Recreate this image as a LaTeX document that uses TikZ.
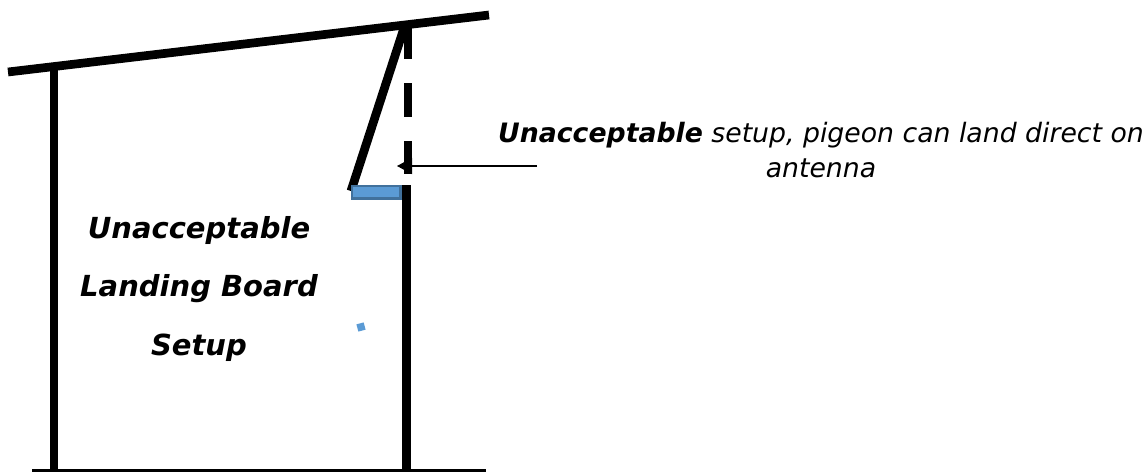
\documentclass[tikz,border=0pt]{standalone}
\usepackage{fontspec}
\setmainfont{DejaVu Sans}
\usetikzlibrary{arrows.meta}
\tikzset{
  wall/.style={line width=8.7pt,draw=black},
  boardbox/.style={draw=myedge,fill=myblue,line width=2.4pt,minimum width=48.5pt,minimum height=12.5pt,inner sep=0pt},
  label/.style={align=center,inner sep=0pt,text=black},
  bigtxt/.style={label,font=\fontsize{29}{58.4}\selectfont\bfseries\itshape},
  note/.style={label,font=\fontsize{26.7}{34.7}\selectfont\itshape},
}
\definecolor{myblue}{HTML}{5B9BD5}
\definecolor{myedge}{HTML}{41719C}
\begin{document}
\begin{tikzpicture}[x=1pt,y=-1pt]
\useasboundingbox (0,0) rectangle (1147,472);
\coordinate (roofL) at (8,72);
\coordinate (roofR) at (489,15);
\coordinate (wallLt) at (54,70);
\coordinate (wallLb) at (54,470);
\coordinate (wallRt) at (408,25);
\coordinate (wallRm) at (408,174);
\coordinate (wallRc) at (406.5,185);
\coordinate (wallRb) at (406.5,470);
\coordinate (brTop) at (405,25);
\coordinate (brBot) at (351,191);
\coordinate (floorL) at (32,470.5);
\coordinate (floorR) at (486,470.5);
\coordinate (arrS) at (537,166);
\coordinate (arrE) at (397,166);
\draw[line width=2.6pt] (floorL) -- (floorR);
\draw[wall] (wallLt) -- (wallLb);
\draw[wall] (wallRc) -- (wallRb);
\draw[wall,dash pattern=on 34pt off 24pt] (wallRt) -- (wallRm);
\draw[wall] (roofL) -- (roofR);
\draw[wall] (brTop) -- (brBot);
\node[boardbox] (board) at (376.3,192.3) {};
\draw[line width=1.2pt,-{Triangle[length=15pt,width=16pt]}] (arrS) -- (arrE);
\node[fill=myblue,minimum size=7.5pt,inner sep=0pt,rotate=15] (dot) at (361,327) {};
\node[bigtxt] (title) at (199,288.7) {Unacceptable\\Landing Board\\Setup};
\node[note] (noteT) at (821,150) {\textbf{Unacceptable} setup, pigeon can land direct on\\antenna};
\end{tikzpicture}
\end{document}
